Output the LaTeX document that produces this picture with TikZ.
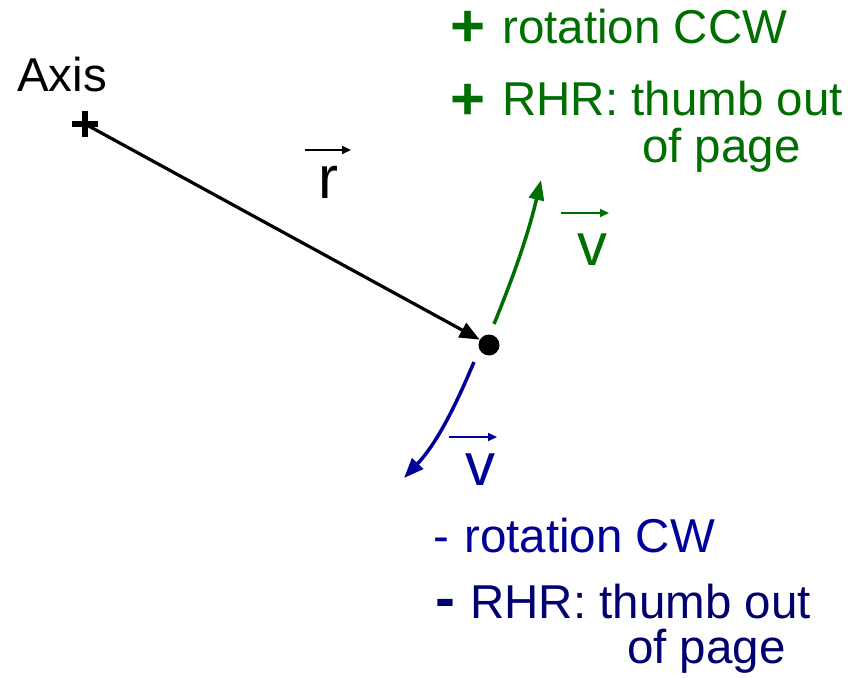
\documentclass[tikz,border=0pt]{standalone}
\usepackage{fontspec}
\setmainfont{Liberation Sans}
\usetikzlibrary{arrows.meta}
\definecolor{cgreen}{RGB}{0,110,0}
\definecolor{cblue}{RGB}{0,0,153}
\definecolor{cnavy}{RGB}{0,0,110}
\tikzset{
  txt/.style={anchor=base west, inner sep=0pt, font=\fontsize{47.5}{55}\selectfont},
  signtxt/.style={anchor=base, inner sep=0pt, font=\fontsize{60}{60}\selectfont\bfseries},
  vtxt/.style={anchor=base, inner sep=0pt, font=\fontsize{60}{70}\selectfont},
  vecarrow/.style={line width=2pt, -{Triangle[length=9pt,width=8pt]}},
  curvearrow/.style={line width=3.5pt, -{Triangle[length=20pt,width=15pt]}},
}
\begin{document}
\begin{tikzpicture}[x=1pt,y=-1pt]
\useasboundingbox (0,0) rectangle (864,677);
% axis
\coordinate (axis) at (85,124);
\draw[line width=6pt] (72,124) -- (98,124) (85,111) -- (85,137);
\node[txt] (axislbl) at (17,92) {Axis};
% particle
\node[circle, fill=black, inner sep=0pt, minimum size=21pt] (dot) at (489,345) {};
\draw[line width=3.2pt, -{Triangle[length=20pt,width=16pt]}] (axis) -- (dot.150);
% r label
\node[vtxt] (r) at (328,198) {r};
\coordinate (r1) at (305,150); \coordinate (r2) at (351,150);
\draw[vecarrow] (r1) -- (r2);
% green velocity
\coordinate (g0) at (494,324); \coordinate (g1) at (541,180);
\draw[curvearrow, cgreen] (g0) .. controls (514,275) and (528,235) .. (g1);
\node[vtxt, text=cgreen] (vg) at (592,265) {v};
\coordinate (vg1) at (561,213); \coordinate (vg2) at (609,213);
\draw[vecarrow, cgreen] (vg1) -- (vg2);
% blue velocity
\coordinate (b0) at (474,362); \coordinate (b1) at (404,478);
\draw[curvearrow, cblue] (b0) .. controls (460,395) and (440,440) .. (b1);
\node[vtxt, text=cblue] (vb) at (480,485) {v};
\coordinate (vb1) at (449,437); \coordinate (vb2) at (497,437);
\draw[vecarrow, cblue] (vb1) -- (vb2);
% green text
\node[signtxt, text=cgreen] (gp1) at (468,47) {+};
\node[txt, text=cgreen] (g1t) at (502,44) {rotation CCW};
\node[signtxt, text=cgreen] (gp2) at (468,119) {+};
\node[txt, text=cgreen] (g2t) at (502,115) {RHR: thumb out};
\node[txt, text=cgreen] (g3t) at (642,162) {of page};
% blue text
\node[txt, text=cblue] (bm1) at (433,552) {-};
\node[txt, text=cblue] (b1t) at (464,552) {rotation CW};
\node[signtxt, text=cnavy] (bm2) at (445,618) {-};
\node[txt, text=cnavy] (b2t) at (470,618) {RHR: thumb out};
\node[txt, text=cnavy] (b3t) at (627,663) {of page};
\end{tikzpicture}
\end{document}
